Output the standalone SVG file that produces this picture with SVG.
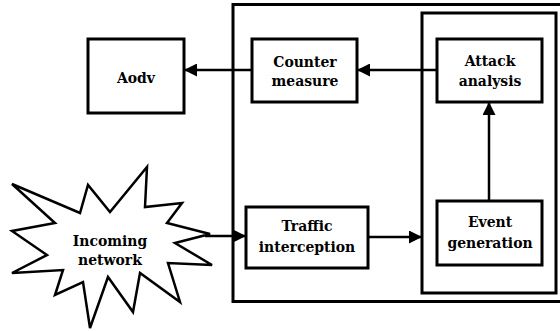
<svg xmlns="http://www.w3.org/2000/svg" width="560" height="331" viewBox="0 0 560 331">
<style>
.box{fill:#fff;stroke:#000;stroke-width:3}
.frame{fill:none;stroke:#000;stroke-width:3}
.lbl{font-family:'DejaVu Serif',serif;font-stretch:condensed;font-size:15.5px;font-weight:bold;text-anchor:middle;fill:#000}
.con{stroke:#000;stroke-width:2.5;fill:none;marker-end:url(#ah)}
</style>
<defs>
<marker id="ah" markerWidth="13" markerHeight="13" refX="13" refY="6.5" orient="auto" markerUnits="userSpaceOnUse">
<path d="M0,0 L13,6.5 L0,13 Z" fill="#000"/>
</marker>
</defs>
<rect width="560" height="331" fill="#fff"/>
<g id="outer-frame"><rect class="frame" x="233" y="4.5" width="332" height="297"/></g>
<g id="inner-frame"><rect class="frame" x="422" y="13" width="134" height="280"/></g>
<g id="connectors">
<line class="con" x1="252" y1="70" x2="184" y2="70"/>
<line class="con" x1="437" y1="70" x2="357" y2="70"/>
<line class="con" x1="489" y1="201" x2="489" y2="102"/>
<line class="con" x1="368" y1="237" x2="422" y2="237"/>
<line class="con" x1="205" y1="236" x2="246" y2="236"/>
</g>
<g id="aodv"><rect class="box" x="88" y="39" width="96" height="74"/><text class="lbl" x="136" y="83">Aodv</text></g>
<g id="counter-measure"><rect class="box" x="252" y="39" width="105" height="63"/><text class="lbl" x="305" y="67">Counter</text><text class="lbl" x="305" y="86">measure</text></g>
<g id="attack-analysis"><rect class="box" x="437" y="39" width="105" height="63"/><text class="lbl" x="490" y="66">Attack</text><text class="lbl" x="490" y="86">analysis</text></g>
<g id="traffic-interception"><rect class="box" x="246" y="207" width="122" height="61"/><text class="lbl" x="307" y="231">Traffic</text><text class="lbl" x="307" y="252">interception</text></g>
<g id="event-generation"><rect class="box" x="437" y="201" width="105" height="64"/><text class="lbl" x="490" y="227">Event</text><text class="lbl" x="490" y="248">generation</text></g>
<g id="incoming-network"><polygon fill="#fff" stroke="#000" stroke-width="2.5" stroke-linejoin="miter" points="12,184 80,213 88,185 110,212 147,167 145,207 182,203 167,223 210,234 175,243 212,265 168,263 180,302 140,273 133,312 108,277 90,328 83,282 55,295 63,270 12,273 47,255 12,231 55,223"/><text class="lbl" x="110" y="246">Incoming</text><text class="lbl" x="110" y="265">network</text></g>
</svg>
